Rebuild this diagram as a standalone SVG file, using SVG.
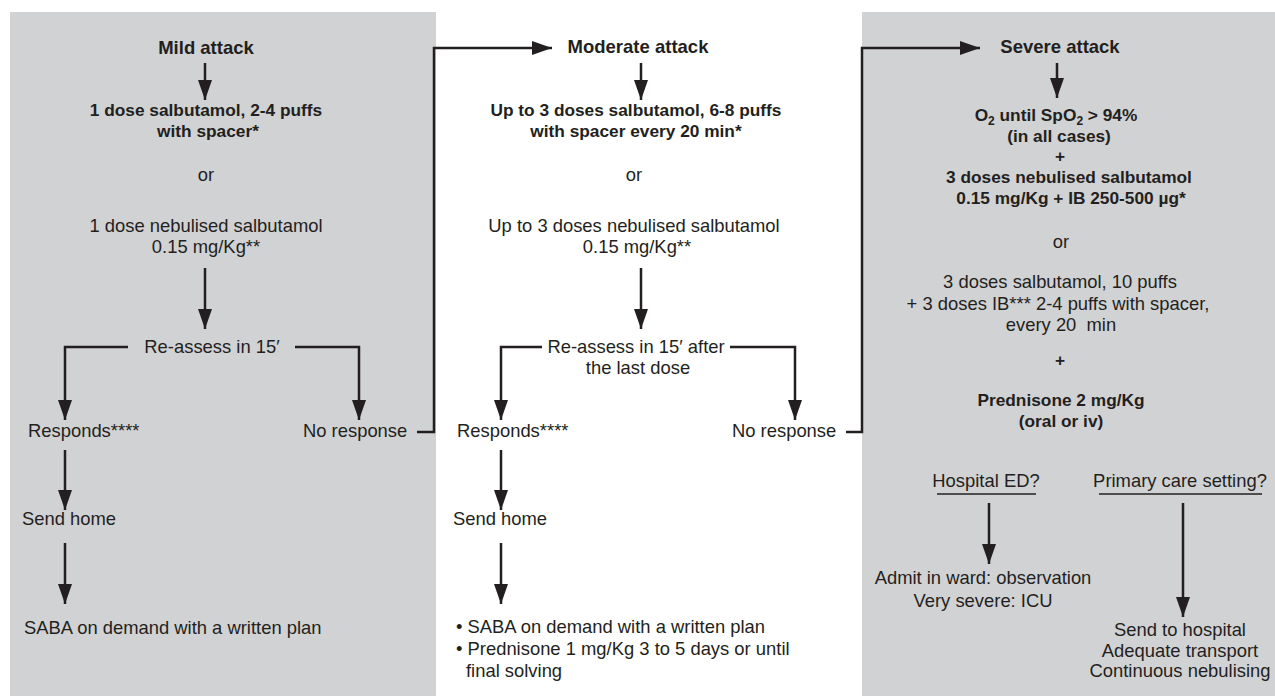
<svg xmlns="http://www.w3.org/2000/svg" width="1275" height="697" viewBox="0 0 1275 697">
<defs>
<style>
.panel{fill:#d1d2d4;}
text{font-family:"Liberation Sans",Arial,sans-serif;fill:#231f20;}
.h{font-size:18.5px;font-weight:bold;text-anchor:middle;}
.b{font-size:17.3px;font-weight:bold;text-anchor:middle;}
.r{font-size:18.4px;}
.c{text-anchor:middle;}
.ln{fill:none;stroke:#231f20;stroke-width:2.5;}
.ul{stroke:#231f20;stroke-width:1.3;}
</style>
<marker id="ah" viewBox="0 0 20 14" refX="20" refY="7" markerWidth="20" markerHeight="14" markerUnits="userSpaceOnUse" orient="auto">
<path d="M0,0 L20,7 L0,14 z" fill="#231f20"/>
</marker>
</defs>
<rect width="1275" height="697" fill="#ffffff"/>
<g id="panels">
<rect class="panel" x="10" y="12" width="426" height="684"/>
<rect class="panel" x="862" y="12" width="413" height="684"/>
</g>
<g id="mild">
<text class="h" x="206" y="54">Mild attack</text>
<text class="b" x="206" y="116">1 dose salbutamol, 2-4 puffs</text>
<text class="b" x="208" y="137">with spacer*</text>
<text class="r c" x="206" y="181">or</text>
<text class="r c" x="206" y="232">1 dose nebulised salbutamol</text>
<text class="r c" x="206" y="253">0.15 mg/Kg**</text>
<text class="r c" x="212" y="353">Re-assess in 15′</text>
<text class="r" x="28" y="437">Responds****</text>
<text class="r" x="303" y="437">No response</text>
<text class="r" x="22" y="525">Send home</text>
<text class="r" x="24" y="634">SABA on demand with a written plan</text>
</g>
<g id="moderate">
<text class="h" x="638" y="53">Moderate attack</text>
<text class="b" x="636" y="116">Up to 3 doses salbutamol, 6-8 puffs</text>
<text class="b" x="636" y="137">with spacer every 20 min*</text>
<text class="r c" x="634" y="181">or</text>
<text class="r c" x="634" y="232">Up to 3 doses nebulised salbutamol</text>
<text class="r c" x="637" y="253">0.15 mg/Kg**</text>
<text class="r c" x="636" y="353">Re-assess in 15′ after</text>
<text class="r c" x="638" y="374">the last dose</text>
<text class="r" x="457" y="437">Responds****</text>
<text class="r" x="732" y="437">No response</text>
<text class="r" x="453" y="525">Send home</text>
<text class="r" x="456" y="633">• SABA on demand with a written plan</text>
<text class="r" x="456" y="655">• Prednisone 1 mg/Kg 3 to 5 days or until</text>
<text class="r" x="466" y="677">final solving</text>
</g>
<g id="severe">
<text class="h" x="1060" y="53">Severe attack</text>
<text class="b" x="1056" y="121">O<tspan font-size="12" dy="4">2</tspan><tspan dy="-4"> until SpO</tspan><tspan font-size="12" dy="4">2</tspan><tspan dy="-4"> &gt; 94%</tspan></text>
<text class="b" x="1059" y="142">(in all cases)</text>
<text class="b" x="1060" y="162">+</text>
<text class="b" x="1069" y="183">3 doses nebulised salbutamol</text>
<text class="b" x="1071" y="204">0.15 mg/Kg + IB 250-500 µg*</text>
<text class="r c" x="1061" y="248">or</text>
<text class="r c" x="1060" y="288">3 doses salbutamol, 10 puffs</text>
<text class="r c" x="1058" y="310">+ 3 doses IB*** 2-4 puffs with spacer,</text>
<text class="r c" x="1061" y="331">every 20&#160; min</text>
<text class="b" x="1060" y="366">+</text>
<text class="b" x="1061" y="406">Prednisone 2 mg/Kg</text>
<text class="b" x="1061" y="427">(oral or iv)</text>
</g>
<g id="hospital">
<text class="r c" x="986" y="487">Hospital ED?</text>
<line class="ul" x1="937" y1="494" x2="1036" y2="494"/>
<text class="r c" x="983" y="584">Admit in ward: observation</text>
<text class="r c" x="983" y="607">Very severe: ICU</text>
</g>
<g id="primary">
<text class="r c" x="1180" y="487">Primary care setting?</text>
<line class="ul" x1="1099" y1="494" x2="1262" y2="494"/>
<text class="r c" x="1180" y="636">Send to hospital</text>
<text class="r c" x="1180" y="657">Adequate transport</text>
<text class="r c" x="1180" y="677">Continuous nebulising</text>
</g>
<g id="connectors">
<line class="ln" x1="205" y1="63" x2="205" y2="100" marker-end="url(#ah)"/>
<line class="ln" x1="205" y1="268" x2="205" y2="329" marker-end="url(#ah)"/>
<path class="ln" d="M128,347 H65 V420" marker-end="url(#ah)"/>
<path class="ln" d="M295,347 H359 V420" marker-end="url(#ah)"/>
<line class="ln" x1="65" y1="450" x2="65" y2="510" marker-end="url(#ah)"/>
<line class="ln" x1="65" y1="543" x2="65" y2="604" marker-end="url(#ah)"/>
<path class="ln" d="M417,432 H434 V48 H552" marker-end="url(#ah)"/>
<line class="ln" x1="641" y1="63" x2="641" y2="100" marker-end="url(#ah)"/>
<line class="ln" x1="641" y1="268" x2="641" y2="329" marker-end="url(#ah)"/>
<path class="ln" d="M542,347 H501 V420" marker-end="url(#ah)"/>
<path class="ln" d="M730,347 H795 V420" marker-end="url(#ah)"/>
<line class="ln" x1="501" y1="450" x2="501" y2="510" marker-end="url(#ah)"/>
<line class="ln" x1="501" y1="543" x2="501" y2="604" marker-end="url(#ah)"/>
<path class="ln" d="M846,432 H862 V48 H980" marker-end="url(#ah)"/>
<line class="ln" x1="1057" y1="63" x2="1057" y2="98" marker-end="url(#ah)"/>
<line class="ln" x1="989" y1="503" x2="989" y2="564" marker-end="url(#ah)"/>
<line class="ln" x1="1183" y1="503" x2="1183" y2="617" marker-end="url(#ah)"/>
</g>
</svg>
